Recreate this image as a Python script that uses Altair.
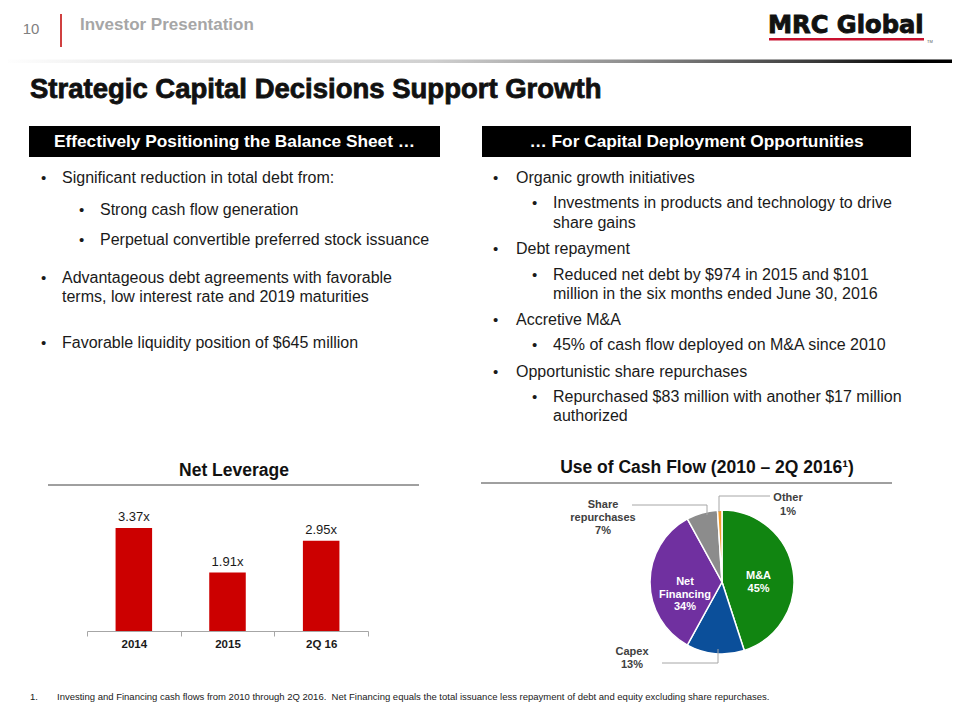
import altair as alt
import pandas as pd

# ---------------- data ----------------
lev_periods = ["2014", "2015", "2Q 16"]
lev_values = [3.37, 1.91, 2.95]

cf_categories = ["M&A", "Capex", "Net Financing", "Share repurchases", "Other"]
cf_display = ["M&A", "Capex", "Net\nFinancing", "Share\nrepurchases", "Other"]
cf_shares = [45, 13, 34, 7, 1]
cf_inside = [True, False, True, False, False]
cf_colors = ["#118511", "#0B4F9A", "#7030A0", "#8C8C8C", "#F39C2C"]

slide_number = "10"
header_label = "Investor Presentation"
logo_text = "MRC Global"
slide_title = "Strategic Capital Decisions Support Growth"
left_heading = "Effectively Positioning the Balance Sheet \u2026"
right_heading = "\u2026 For Capital Deployment Opportunities"

left_lines = [
    (0, "\u2022", "Significant reduction in total debt from:"),
    (1, "\u2022", "Strong cash flow generation"),
    (1, "\u2022", "Perpetual convertible preferred stock issuance"),
    (0, "\u2022", "Advantageous debt agreements with favorable"),
    (0, "", "terms, low interest rate and 2019 maturities"),
    (0, "\u2022", "Favorable liquidity position of $645 million"),
]
right_lines = [
    (0, "\u2022", "Organic growth initiatives"),
    (1, "\u2022", "Investments in products and technology to drive"),
    (1, "", "share gains"),
    (0, "\u2022", "Debt repayment"),
    (1, "\u2022", "Reduced net debt by $974 in 2015 and $101"),
    (1, "", "million in the six months ended June 30, 2016"),
    (0, "\u2022", "Accretive M&A"),
    (1, "\u2022", "45% of cash flow deployed on M&A since 2010"),
    (0, "\u2022", "Opportunistic share repurchases"),
    (1, "\u2022", "Repurchased $83 million with another $17 million"),
    (1, "", "authorized"),
]
lev_title = "Net Leverage"
cf_title = "Use of Cash Flow (2010 \u2013 2Q 2016\u00b9)"
footnote_num = "1."
footnote_text = ("Investing and Financing cash flows from 2010 through 2Q 2016.\u00a0 Net Financing equals the total "
                 "issuance less repayment of debt and equity excluding share repurchases.")

# ---------------- layout helpers ----------------
SANS = "Liberation Sans, Arial, Helvetica, sans-serif"
OX, OY = 8, 8
W, H = 944, 704


def X(v):
    return v - OX


def Y(v):
    return v - OY


ONE = pd.DataFrame({"k": [0]})
layers = []


def text(s, x, y, size, weight="normal", color="#1a1a1a", align="left",
         baseline="middle", font=SANS, stroke_w=0):
    kw = dict(fontSize=size, fontWeight=weight, color=color, align=align,
              baseline=baseline, font=font)
    if stroke_w:
        kw.update(stroke=color, strokeWidth=stroke_w)
    layers.append(
        alt.Chart(ONE).mark_text(**kw)
        .encode(x=alt.value(X(x)), y=alt.value(Y(y)), text=alt.value(s))
    )


def rule(x1, y1, x2, y2, color="#404040", width=1):
    layers.append(
        alt.Chart(ONE).mark_rule(color=color, strokeWidth=width)
        .encode(x=alt.value(X(x1)), x2=alt.value(X(x2)),
                y=alt.value(Y(y1)), y2=alt.value(Y(y2)))
    )


def rect(x1, y1, x2, y2, fill):
    layers.append(
        alt.Chart(ONE).mark_rect(fill=fill)
        .encode(x=alt.value(X(x1)), x2=alt.value(X(x2)),
                y=alt.value(Y(y1)), y2=alt.value(Y(y2)))
    )


# ---------------- header ----------------
text(slide_number, 31, 29, 15, color="#808080", align="center")
rule(61, 14, 61, 47, color="#C00000", width=1.5)
text(header_label, 80, 25, 17, weight="bold", color="#A6A6A6")
text(logo_text, 768, 26, 24.2, weight="bold", color="#111111",
     font="DejaVu Sans, Liberation Sans, sans-serif", stroke_w=0.9)
rect(769, 38, 924, 40.5, "#C8102E")
text("TM", 927, 42, 4, color="#555555")

grad = alt.Gradient(
    gradient="linear",
    stops=[alt.GradientStop(offset=0, color="#FFFFFF"),
           alt.GradientStop(offset=0.12, color="#EEEEEE"),
           alt.GradientStop(offset=0.45, color="#D0D0D0"),
           alt.GradientStop(offset=0.65, color="#909090"),
           alt.GradientStop(offset=0.85, color="#3A3A3A"),
           alt.GradientStop(offset=0.95, color="#000000"),
           alt.GradientStop(offset=1, color="#000000")],
    x1=0, x2=1, y1=0, y2=0,
)
rect(0, 59.5, 960, 63, grad)

text(slide_title, 30, 90, 27.5, weight="bold", color="#111111", stroke_w=0.8)

# heading boxes
rect(29, 126, 440, 157, "#000000")
rect(482, 126, 911, 157, "#000000")
text(left_heading, 234.5, 142, 17.3, weight="bold", color="#FFFFFF", align="center")
text(right_heading, 696.5, 142, 17.3, weight="bold", color="#FFFFFF", align="center")

# bullets
left_y = [178, 210, 240, 278, 297, 343]
for (lvl, b, s), yy in zip(left_lines, left_y):
    bx, tx = (41, 62) if lvl == 0 else (79, 100)
    if b:
        text(b, bx, yy, 15)
    text(s, tx, yy, 16)

right_y = [178, 203, 223, 249, 275, 294, 320, 345, 372, 397, 416]
for (lvl, b, s), yy in zip(right_lines, right_y):
    bx, tx = (493, 516) if lvl == 0 else (532, 553)
    if b:
        text(b, bx, yy, 15)
    text(s, tx, yy, 16)

# chart titles
text(lev_title, 234, 471, 17.5, weight="bold", color="#111111", align="center")
rule(48, 485, 419, 485, color="#404040", width=1)
text(cf_title, 707, 468, 17.5, weight="bold", color="#111111", align="center")
rule(481, 483, 892, 483, color="#404040", width=1)

# ---------------- Net leverage bar chart ----------------
lev_df = pd.DataFrame({
    "period": lev_periods,
    "value": lev_values,
    "label": [f"{v:.2f}x" for v in lev_values],
})
base_y = Y(631)
px_per_unit = 30.6
x_enc = alt.X(
    "period:N", sort=lev_periods, title=None,
    scale=alt.Scale(range=[X(87), X(368)], paddingInner=0, paddingOuter=0),
    axis=alt.Axis(offset=base_y - H, domainColor="#A6A6A6", tickColor="#A6A6A6",
                  tickSize=5, tickBand="extent", labelFont=SANS, labelFontSize=11.5,
                  labelFontWeight="bold", labelColor="#1a1a1a", labelPadding=2,
                  labelAngle=0, grid=False, domainWidth=1, tickWidth=1),
)
y_enc = alt.Y("value:Q", axis=None,
              scale=alt.Scale(domain=[0, 4], range=[base_y, base_y - 4 * px_per_unit]))

layers.append(
    alt.Chart(lev_df).mark_bar(color="#CC0000", width=alt.RelativeBandSize(0.39))
    .encode(x=x_enc, y=y_enc)
)
layers.append(
    alt.Chart(lev_df).mark_text(font=SANS, fontSize=13, color="#1a1a1a",
                                baseline="alphabetic", dy=-7)
    .encode(x=x_enc, y=y_enc, text="label:N")
)

# ---------------- Use of cash flow pie ----------------
cf_df = pd.DataFrame({
    "cat": cf_categories,
    "share": cf_shares,
    "order": list(range(len(cf_categories))),
    "inner": [f"{d}\n{s}%" if ins else "" for d, s, ins in zip(cf_display, cf_shares, cf_inside)],
})
cx, cy, r = 722, 582, 72
theta_enc = alt.Theta("share:Q", stack=True)
order_enc = alt.Order("order:Q")
layers.append(
    alt.Chart(cf_df).mark_arc(radius=r, stroke="#FFFFFF", strokeWidth=1.5)
    .encode(theta=theta_enc, order=order_enc,
            color=alt.Color("cat:N", scale=alt.Scale(domain=cf_categories, range=cf_colors),
                            legend=None),
            x=alt.value(X(cx)), y=alt.value(Y(cy)))
)
layers.append(
    alt.Chart(cf_df).mark_text(radius=37, font=SANS, fontSize=11, fontWeight="bold",
                               color="#FFFFFF", lineBreak="\n", lineHeight=12.5,
                               baseline="middle")
    .encode(theta=theta_enc, order=order_enc, text="inner:N",
            x=alt.value(X(cx)), y=alt.value(Y(cy)))
)

# outside labels with leader lines
outside_pos = {"Share repurchases": (603, 505, 13),
               "Other": (788, 498, 13.5),
               "Capex": (632, 652, 12.5)}
for cat, disp, share, ins in zip(cf_categories, cf_display, cf_shares, cf_inside):
    if ins:
        continue
    lx, ly, step = outside_pos[cat]
    for i, line in enumerate(disp.split("\n") + [f"{share}%"]):
        text(line, lx, ly + i * step, 11, weight="bold", color="#404040", align="center")

LC = "#A6A6A6"
rule(632, 505, 707, 505, color=LC)
rule(707, 505, 707, 515, color=LC)
rule(719, 512, 719, 496, color=LC)
rule(719, 496, 770, 496, color=LC)
rule(718, 649, 718, 663, color=LC)
rule(718, 663, 662, 663, color=LC)

# ---------------- footnote ----------------
text(footnote_num, 30, 697, 9.5)
text(footnote_text, 57, 697, 9.5)

chart = (
    alt.layer(*layers)
    .properties(width=W, height=H, padding=0,
                autosize=alt.AutoSizeParams(type="none"), background="#FFFFFF")
    .configure_view(stroke=None)
)
chart.save("out.html", embed_options={"renderer": "svg", "actions": False})
